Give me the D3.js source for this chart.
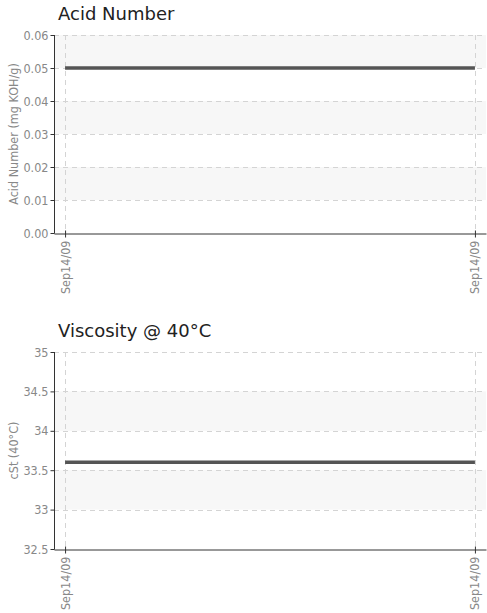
<!DOCTYPE html>
<html>
<head>
<meta charset="utf-8">
<script src="https://cdn.jsdelivr.net/npm/d3@7"></script>
<style>
  body { margin: 0; background: #fff; overflow: hidden; }
  svg { display: block; }
  .title { font-family: "DejaVu Sans", Verdana, sans-serif; font-size: 18px; fill: #222; }
  .tick text, .ylab { font-family: "DejaVu Sans", sans-serif; font-stretch: semi-condensed; fill: #888; }
</style>
</head>
<body>
<div id="plot"></div>
<script>
// sample dates (two readings, same day label)
const dates = ["Sep14/09", "Sep14/09"];

const acidValues = [0.05, 0.05];
const acidTicks = [0, 0.01, 0.02, 0.03, 0.04, 0.05, 0.06];

const viscValues = [33.6, 33.6];
const viscTicks = [32.5, 33, 33.5, 34, 34.5, 35];

let dimensions = {
  width: 487,
  height: 613,
  left: 54,
  right: 486,
};

const svg = d3.select("#plot").append("svg")
  .attr("width", dimensions.width)
  .attr("height", dimensions.height);

var drawChart = function (cfg) {
  const g = svg.append("g");

  const xScale = d3.scalePoint()
    .domain(dates.map((d, i) => i))
    .range([dimensions.left, dimensions.right])
    .padding(0.027);

  const yScale = d3.scaleLinear()
    .domain([cfg.ticks[0], cfg.ticks[cfg.ticks.length - 1]])
    .range([cfg.bottom, cfg.top]);

  // alternating bands
  for (let i = 0; i < cfg.ticks.length - 1; i++) {
    if (i % 2 === 1) {
      g.append("rect")
        .attr("x", dimensions.left)
        .attr("y", yScale(cfg.ticks[i + 1]))
        .attr("width", dimensions.right - dimensions.left)
        .attr("height", yScale(cfg.ticks[i]) - yScale(cfg.ticks[i + 1]))
        .attr("fill", "#f7f7f7");
    }
  }

  // horizontal grid
  g.selectAll(".hgrid")
    .data(cfg.ticks.slice(1))
    .join("line")
    .attr("x1", dimensions.left)
    .attr("x2", dimensions.right)
    .attr("y1", d => Math.round(yScale(d)) + 0.5)
    .attr("y2", d => Math.round(yScale(d)) + 0.5)
    .attr("stroke", "#d4d4d4")
    .attr("stroke-dasharray", "5,4");

  // vertical grid
  g.selectAll(".vgrid")
    .data(dates.map((d, i) => i))
    .join("line")
    .attr("x1", d => Math.round(xScale(d)) + 0.5)
    .attr("x2", d => Math.round(xScale(d)) + 0.5)
    .attr("y1", cfg.top)
    .attr("y2", cfg.bottom)
    .attr("stroke", "#d4d4d4")
    .attr("stroke-dasharray", "5,4");

  // data line
  const line = d3.line()
    .x((d, i) => xScale(i))
    .y(d => yScale(d));

  g.append("path")
    .datum(cfg.values)
    .attr("d", line)
    .attr("fill", "none")
    .attr("stroke", "#555")
    .attr("stroke-width", 3.5);

  // y axis
  const yAxis = d3.axisLeft(yScale)
    .tickValues(cfg.ticks)
    .tickFormat(cfg.fmt)
    .tickSize(4)
    .tickPadding(2);

  g.append("g")
    .attr("transform", `translate(${dimensions.left + 0.5},0)`)
    .call(yAxis)
    .call(s => s.select(".domain").attr("d", `M0,${cfg.top}V${cfg.bottom + 0.5}`).attr("stroke", "#333"))
    .call(s => s.selectAll(".tick line").attr("stroke", "#333"))
    .call(s => s.selectAll(".tick text").attr("font-size", 12.5));

  // x axis
  const xAxis = d3.axisBottom(xScale)
    .tickFormat(i => dates[i])
    .tickSize(4)
    .tickSizeOuter(0);

  g.append("g")
    .attr("transform", `translate(0,${cfg.bottom + 0.5})`)
    .call(xAxis)
    .call(s => s.select(".domain").attr("stroke", "#333"))
    .call(s => s.selectAll(".tick line").attr("stroke", "#333").attr("y1", -3))
    .call(s => s.selectAll(".tick text")
      .attr("font-size", 12.5)
      .attr("transform", "rotate(-90)")
      .attr("text-anchor", "end")
      .attr("x", -7)
      .attr("y", 0)
      .attr("dy", "0.32em"));

  // title
  g.append("text")
    .attr("class", "title")
    .attr("x", 58)
    .attr("y", cfg.titleY)
    .text(cfg.title);

  // y axis label
  g.append("text")
    .attr("class", "ylab")
    .attr("font-size", 12.5)
    .attr("text-anchor", "middle")
    .attr("transform", `translate(18,${(cfg.top + cfg.bottom) / 2}) rotate(-90)`)
    .text(cfg.ylabel);
};

drawChart({
  title: "Acid Number",
  ylabel: "Acid Number (mg KOH/g)",
  values: acidValues,
  ticks: acidTicks,
  fmt: d3.format(".2f"),
  top: 35,
  bottom: 233,
  titleY: 20,
});

drawChart({
  title: "Viscosity @ 40°C",
  ylabel: "cSt (40°C)",
  values: viscValues,
  ticks: viscTicks,
  fmt: d => String(d),
  top: 352,
  bottom: 549,
  titleY: 337,
});
</script>
</body>
</html>
